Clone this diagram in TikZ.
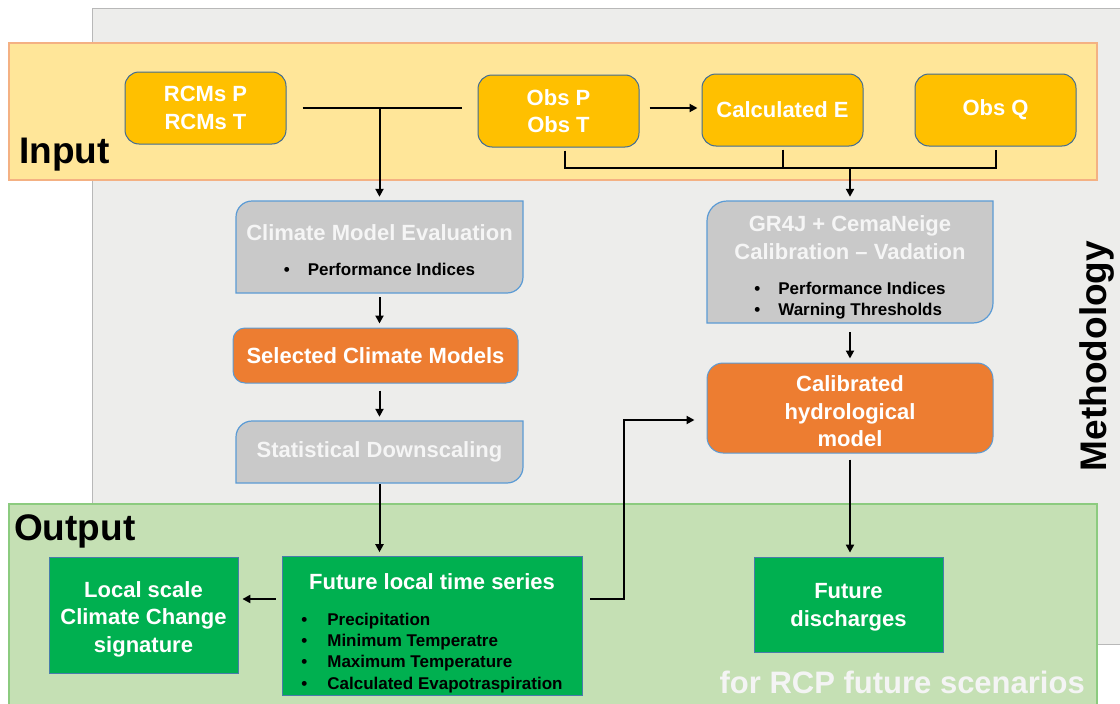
\documentclass[tikz,border=0pt]{standalone}
\usepackage{fontspec}
\setmainfont{Liberation Sans}
\usetikzlibrary{arrows.meta}
\definecolor{methgray}{HTML}{EDEDEB}
\definecolor{methedge}{HTML}{B8B8B8}
\definecolor{inband}{HTML}{FFE699}
\definecolor{inedge}{HTML}{F4B183}
\definecolor{outband}{HTML}{C5E0B4}
\definecolor{outedge}{HTML}{8CCB7F}
\definecolor{boxyellow}{HTML}{FFC000}
\definecolor{boxgray}{HTML}{C9C9C9}
\definecolor{boxorange}{HTML}{ED7D31}
\definecolor{boxgreen}{HTML}{00B050}
\definecolor{edgeblue}{HTML}{5B9BD5}
\definecolor{scentext}{HTML}{F4F4F4}
\newcommand\itemfont{\color{black}\fontsize{17}{21.3}\selectfont}
\begin{document}
\begin{tikzpicture}[x=1pt,y=-1pt,
    every node/.style={inner sep=0pt, align=center, font=\bfseries},
    boxtext/.style={text=white, font=\bfseries\fontsize{22}{27.5}\selectfont},
    inbox/.style={boxtext, draw=edgeblue!70!black, fill=boxyellow, line width=1pt, rounded corners=14pt, minimum width=161pt, minimum height=72pt},
    graybox/.style={draw=edgeblue, fill=boxgray, line width=1.2pt},
    graynode/.style={boxtext, text=white!96!black, minimum width=287pt},
    orangebox/.style={boxtext, draw=edgeblue, fill=boxorange, line width=1pt},
    greenbox/.style={boxtext, draw=edgeblue!80!black, fill=boxgreen, line width=0.8pt},
    bandlabel/.style={anchor=base west, text=black, font=\bfseries\fontsize{37}{37}\selectfont},
    link/.style={line width=2pt},
    flow/.style={link, -{Triangle[length=8pt,width=8pt]}, shorten >=4pt}]
\useasboundingbox (0,0) rectangle (1120,704);
\fill[white] (0,0) rectangle (1120,704);
\draw[fill=methgray, draw=methedge, line width=1pt] (92,8) rectangle (1125,644);
\draw[fill=inband, draw=inedge, line width=1.2pt] (9,43) rectangle (1097,180);
\draw[fill=outband, draw=outedge, line width=1.2pt] (9,504) rectangle (1097,710);
\node[bandlabel] (inlab) at (19,163) {Input};
\node[bandlabel] (outlab) at (14,540) {Output};
\node[rotate=90, anchor=base, font=\bfseries\fontsize{37}{37}\selectfont] (methlab) at (1106,356) {Methodology};
\node[anchor=base east, text=scentext, font=\bfseries\fontsize{31}{31}\selectfont] (rcp) at (1085,693) {for RCP future scenarios};
\node[inbox] (rcm) at (205.5,108) {RCMs P\\RCMs T};
\node[inbox] (obs) at (558.5,111) {Obs P\\Obs T};
\node[inbox] (calc) at (782.5,110) {Calculated E};
\node[inbox] (obsq) at (995.5,110) {Obs Q};
\draw[graybox] (236,293) -- (236,217) .. controls (236,208.2) and (243.2,201) .. (252,201) -- (523,201) -- (523,277) .. controls (523,285.8) and (515.8,293) .. (507,293) -- cycle;
\node[graynode, minimum height=92pt] (cme) at (379.5,247) {\rule{0pt}{28pt}Climate Model Evaluation\\[8pt]{\itemfont\begin{tabular}[t]{@{}l@{\hspace{18pt}}l@{}}\textbullet & Performance Indices\end{tabular}}};
\node[orangebox, rounded corners=12pt, minimum width=285pt, minimum height=55pt] (sel) at (375.5,355.5) {Selected Climate Models};
\draw[graybox] (236,483) -- (236,437) .. controls (236,428.2) and (243.2,421) .. (252,421) -- (523,421) -- (523,467) .. controls (523,475.8) and (515.8,483) .. (507,483) -- cycle;
\node[graynode, minimum height=62pt] (sds) at (379.5,452) {Statistical Downscaling};
\draw[graybox] (707,323) -- (707,221) .. controls (707,210) and (716,201) .. (727,201) -- (993,201) -- (993,303) .. controls (993,314) and (984,323) .. (973,323) -- cycle;
\node[graynode, minimum width=286pt, minimum height=122pt] (gr4j) at (850,262) {\rule{0pt}{30pt}GR4J + CemaNeige\\Calibration – Vadation\\[8pt]{\itemfont\begin{tabular}[t]{@{}l@{\hspace{18pt}}l@{}}\textbullet & Performance Indices\\ \textbullet & Warning Thresholds\end{tabular}}};
\node[orangebox, rounded corners=16pt, minimum width=286pt, minimum height=90pt] (cal) at (850,408) {\rule{0pt}{23pt}Calibrated\\hydrological\\model};
\node[greenbox, minimum width=189pt, minimum height=116pt] (loc) at (143.5,615) {\rule{0pt}{24pt}Local scale\\Climate Change\\signature};
\node[greenbox, minimum width=300pt, minimum height=138pt] (fut) at (432,626) {\rule{0pt}{33pt}Future local time series\\[8pt]{\itemfont\begin{tabular}[t]{@{}l@{\hspace{20pt}}l@{}}\textbullet & Precipitation\\ \textbullet & Minimum Temperatre\\ \textbullet & Maximum Temperature\\ \textbullet & Calculated Evapotraspiration\end{tabular}}};
\node[greenbox, minimum width=189pt, minimum height=95pt] (dis) at (848.5,604.5) {\rule{0pt}{21pt}Future\\discharges};
\coordinate (brk) at (850,168);
\coordinate (loop) at (624,599);
\draw[link] ([xshift=16pt]rcm.east) -- ([xshift=-16pt]obs.west |- rcm.east);
\draw[flow] (cme.north |- rcm.east) -- (cme.north);
\draw[flow] ([xshift=10pt]obs.east |- rcm.east) -- (calc.west |- rcm.east);
\draw[link] ([xshift=6pt,yshift=-3pt]obs.south) |- (brk) -| ([yshift=-3pt]obsq.south);
\draw[link] ([yshift=-3pt]calc.south) -- (calc.south |- brk);
\draw[flow] (brk) -- (gr4j.north);
\draw[flow] ([yshift=-4pt]cme.south) -- (cme.south |- sel.north);
\draw[flow] ([yshift=-7pt]sel.south -| cme.south) -- (cme.south |- sds.north);
\draw[flow] ([yshift=-1pt]sds.south) -- (sds.south |- fut.north);
\draw[flow] ([yshift=-9pt]gr4j.south) -- (cal.north);
\draw[flow] ([yshift=-6pt]cal.south) -- (cal.south |- dis.north);
\draw[flow] ([xshift=-6pt]fut.west |- loop) -- (loc.east |- loop);
\draw[flow] ([xshift=8pt]fut.east |- loop) -- (loop) |- ([yshift=-12pt,xshift=-8pt]cal.west);
\end{tikzpicture}
\end{document}
